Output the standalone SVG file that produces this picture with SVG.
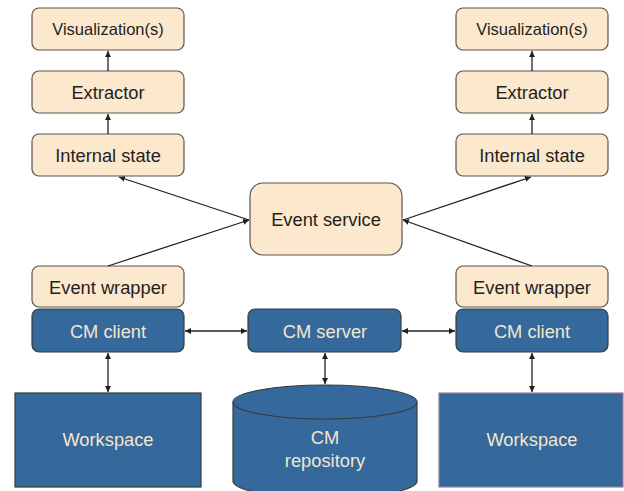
<svg xmlns="http://www.w3.org/2000/svg" width="624" height="491" viewBox="0 0 624 491">
  <defs>
    <marker id="arrow" viewBox="0 0 8 8" refX="8" refY="4" markerWidth="6" markerHeight="6" orient="auto-start-reverse" markerUnits="userSpaceOnUse">
      <path d="M0,0 L8,4 L0,8 z" fill="#231f20"/>
    </marker>
    <style>
      .lt { fill: #fbe8cd; stroke: #5a5550; stroke-width: 1.2; }
      .dk { fill: #35689b; stroke: #3a3a3a; stroke-width: 1.2; }
      .t { font-family: "Liberation Sans", Arial, sans-serif; font-size: 18.3px; fill: #231f20; text-anchor: middle; }
      .ts { font-size: 16.5px; }
      .tw { fill: #f3e6cc; }
      .c { stroke: #231f20; stroke-width: 1.3; fill: none; }
    </style>
  </defs>

  <!-- left column -->
  <g id="viz-left"><rect class="lt" x="32" y="8" width="152" height="42" rx="7"/><text class="t ts" x="108" y="35">Visualization(s)</text></g>
  <g id="extractor-left"><rect class="lt" x="32" y="71" width="152" height="42" rx="7"/><text class="t" x="108" y="99">Extractor</text></g>
  <g id="state-left"><rect class="lt" x="32" y="134" width="152" height="42" rx="7"/><text class="t" x="108" y="162">Internal state</text></g>
  <g id="wrapper-left"><rect class="lt" x="32" y="266" width="152" height="41" rx="7"/><text class="t" x="108" y="294">Event wrapper</text></g>
  <g id="client-left"><rect class="dk" x="32" y="309" width="152" height="43" rx="7"/><text class="t tw" x="108" y="338">CM client</text></g>
  <g id="workspace-left"><rect class="dk" x="15" y="393" width="186" height="94"/><text class="t tw" x="108" y="446">Workspace</text></g>

  <!-- centre -->
  <g id="event-service"><rect class="lt" x="250" y="183" width="152" height="72" rx="13"/><text class="t" x="326" y="226">Event service</text></g>
  <g id="cm-server"><rect class="dk" x="248" y="309" width="153" height="43" rx="7"/><text class="t tw" x="325" y="338">CM server</text></g>
  <g id="cm-repository">
    <path class="dk" d="M233,402 L233,481 A92,17 0 0 0 417,481 L417,402"/>
    <ellipse class="dk" cx="325" cy="402" rx="92" ry="17"/>
    <text class="t tw" x="325" y="444">CM</text>
    <text class="t tw" x="325" y="467">repository</text>
  </g>

  <!-- right column -->
  <g id="viz-right"><rect class="lt" x="456" y="8" width="152" height="42" rx="7"/><text class="t ts" x="532" y="35">Visualization(s)</text></g>
  <g id="extractor-right"><rect class="lt" x="456" y="71" width="152" height="42" rx="7"/><text class="t" x="532" y="99">Extractor</text></g>
  <g id="state-right"><rect class="lt" x="456" y="134" width="152" height="42" rx="7"/><text class="t" x="532" y="162">Internal state</text></g>
  <g id="wrapper-right"><rect class="lt" x="456" y="266" width="152" height="41" rx="7"/><text class="t" x="532" y="294">Event wrapper</text></g>
  <g id="client-right"><rect class="dk" x="456" y="309" width="152" height="43" rx="7"/><text class="t tw" x="532" y="338">CM client</text></g>
  <g id="workspace-right"><rect class="dk" x="439" y="393" width="184" height="94" style="stroke:#a07a9c"/><text class="t tw" x="532" y="446">Workspace</text></g>

  <!-- connectors -->
  <g id="connectors">
    <line class="c" x1="108" y1="71" x2="108" y2="51" marker-end="url(#arrow)"/>
    <line class="c" x1="108" y1="134" x2="108" y2="114" marker-end="url(#arrow)"/>
    <line class="c" x1="532" y1="71" x2="532" y2="51" marker-end="url(#arrow)"/>
    <line class="c" x1="532" y1="134" x2="532" y2="114" marker-end="url(#arrow)"/>

    <line class="c" x1="249" y1="220" x2="119" y2="177" marker-end="url(#arrow)"/>
    <line class="c" x1="108" y1="266" x2="249" y2="220" marker-end="url(#arrow)"/>
    <line class="c" x1="403" y1="220" x2="531" y2="177" marker-end="url(#arrow)"/>
    <line class="c" x1="532" y1="266" x2="403" y2="220" marker-end="url(#arrow)"/>

    <line class="c" x1="185" y1="331" x2="247" y2="331" marker-start="url(#arrow)" marker-end="url(#arrow)"/>
    <line class="c" x1="402" y1="331" x2="455" y2="331" marker-start="url(#arrow)" marker-end="url(#arrow)"/>

    <line class="c" x1="108" y1="353" x2="108" y2="392" marker-start="url(#arrow)" marker-end="url(#arrow)"/>
    <line class="c" x1="325" y1="353" x2="325" y2="384" marker-start="url(#arrow)" marker-end="url(#arrow)"/>
    <line class="c" x1="532" y1="353" x2="532" y2="392" marker-start="url(#arrow)" marker-end="url(#arrow)"/>
  </g>
</svg>
